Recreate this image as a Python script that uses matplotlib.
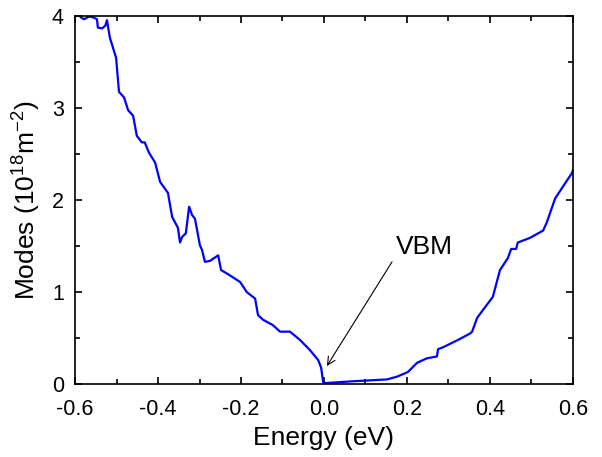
import matplotlib
matplotlib.use("Agg")
import matplotlib.pyplot as plt
from matplotlib.ticker import MultipleLocator

plt.rcParams['font.family'] = ['Liberation Sans', 'DejaVu Sans']
plt.rcParams['mathtext.fontset'] = 'custom'
plt.rcParams['mathtext.rm'] = 'Liberation Sans'
plt.rcParams['mathtext.default'] = 'regular'

# Mode density vs energy
energy = [-0.589, -0.586, -0.578, -0.566, -0.556, -0.547, -0.545, -0.535, -0.527,
          -0.523, -0.516, -0.501, -0.494, -0.482, -0.472, -0.460, -0.451, -0.439,
          -0.432, -0.422, -0.407, -0.395, -0.376, -0.366, -0.352, -0.347, -0.342,
          -0.333, -0.325, -0.318, -0.311, -0.299, -0.294, -0.287, -0.275, -0.255,
          -0.248, -0.233, -0.219, -0.202, -0.186, -0.166, -0.159, -0.147, -0.123,
          -0.106, -0.082, -0.058, -0.034, -0.014, -0.007, -0.002, 0.002, 0.070,
          0.152, 0.176, 0.202, 0.224, 0.248, 0.272, 0.275, 0.287, 0.323, 0.352,
          0.357, 0.369, 0.407, 0.424, 0.443, 0.451, 0.463, 0.467, 0.496, 0.528,
          0.537, 0.557, 0.598, 0.600]
modes = [4.02, 3.99, 3.97, 4.00, 3.99, 3.97, 3.88, 3.87, 3.90,
         3.96, 3.77, 3.55, 3.18, 3.12, 2.98, 2.92, 2.70, 2.63,
         2.63, 2.52, 2.41, 2.20, 2.08, 1.82, 1.70, 1.54, 1.60,
         1.64, 1.93, 1.84, 1.80, 1.51, 1.46, 1.33, 1.34, 1.40,
         1.24, 1.20, 1.16, 1.11, 1.00, 0.93, 0.75, 0.70, 0.64,
         0.57, 0.57, 0.48, 0.37, 0.26, 0.18, 0.02, 0.01, 0.03,
         0.05, 0.08, 0.13, 0.23, 0.28, 0.30, 0.38, 0.40, 0.48, 0.55,
         0.57, 0.72, 0.95, 1.24, 1.37, 1.47, 1.47, 1.54, 1.59, 1.67,
         1.76, 2.02, 2.30, 2.33]

x_ticks = [-0.6, -0.4, -0.2, 0.0, 0.2, 0.4, 0.6]
y_ticks = [0, 1, 2, 3, 4]

fig = plt.figure(figsize=(6.02, 4.57), dpi=100)
ax = fig.add_axes([0.1246, 0.1597, 0.8272, 0.8042])

ax.plot(energy, modes, color='#0000ff', lw=1.6, solid_joinstyle='round')

ax.set_xlim(-0.6, 0.6)
ax.set_ylim(0, 4)
ax.set_xticks(x_ticks)
ax.set_xticklabels([f"{v:.1f}" for v in x_ticks])
ax.set_yticks(y_ticks)
ax.xaxis.set_minor_locator(MultipleLocator(0.1))
ax.yaxis.set_minor_locator(MultipleLocator(0.5))

ax.tick_params(which='both', direction='in', top=True, right=True,
               width=1.2, labelsize=15.5)
ax.tick_params(axis='x', which='major', pad=11)
ax.tick_params(axis='y', which='major', pad=8)
ax.tick_params(which='major', length=5)
ax.tick_params(which='minor', length=3.5)
for s in ax.spines.values():
    s.set_linewidth(1.2)

ax.set_xlabel('Energy (eV)', fontsize=19, labelpad=4)
ax.set_ylabel('Modes (10$^{18}$m$^{-2}$)', fontsize=19, labelpad=6)

# pointer to the valence band maximum
ax.annotate('', xy=(0.007, 0.196), xytext=(0.164, 1.33),
            arrowprops=dict(arrowstyle='->', color='black', lw=0.8,
                            shrinkA=0, shrinkB=0, mutation_scale=14))
ax.text(0.241, 1.49, 'VBM', fontsize=19, ha='center', va='center')

fig.savefig('out.png', dpi=100)
